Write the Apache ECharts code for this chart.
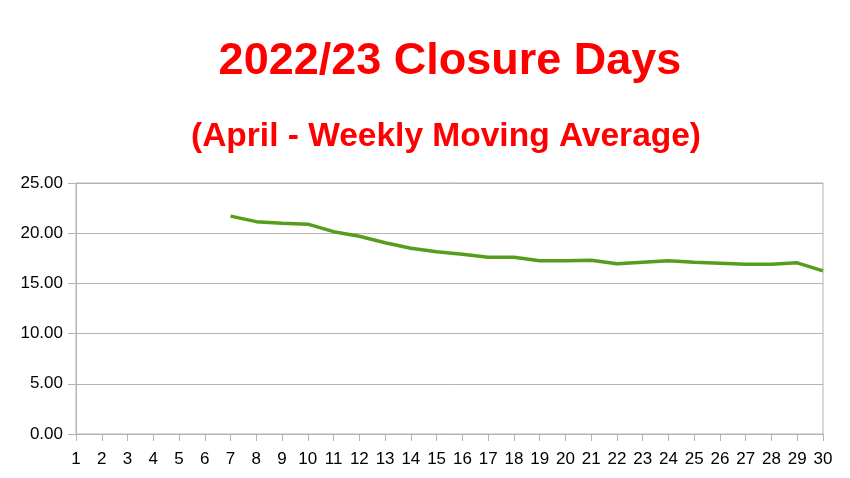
<!DOCTYPE html>
<html>
<head>
<meta charset="utf-8">
<script src="https://cdn.jsdelivr.net/npm/echarts@6/dist/echarts.min.js"></script>
<style>html,body{margin:0;padding:0;background:#fff}#c{width:850px;height:478px}</style>
</head>
<body>
<div id="c"></div>
<script>
const days = ['1','2','3','4','5','6','7','8','9','10','11','12','13','14','15','16','17','18','19','20','21','22','23','24','25','26','27','28','29','30'];
const movingAverage = [null,null,null,null,null,null,21.7,21.15,21.0,20.9,20.15,19.7,19.05,18.5,18.15,17.9,17.6,17.6,17.25,17.25,17.3,16.95,17.1,17.25,17.1,17.0,16.9,16.9,17.05,16.25];
const yTicks = {min:0, max:25, interval:5};

const chart = echarts.init(document.getElementById('c'));
const font = '"Liberation Sans", Arial, sans-serif';
chart.setOption({
  animation:false,
  title:[
    {text:'2022/23 Closure Days', left:445, top:34, textAlign:'center',
     textStyle:{color:'#ff0000', fontSize:45, fontWeight:'bold', fontFamily:font, lineHeight:45}},
    {text:'(April - Weekly Moving Average)', left:441, top:115, textAlign:'center',
     textStyle:{color:'#ff0000', fontSize:33.5, fontWeight:'bold', fontFamily:font, lineHeight:33}}
  ],
  grid:{left:76, right:27, top:183, bottom:44, show:true, borderColor:'#b3b3b3', borderWidth:1, containLabel:false},
  xAxis:{type:'category', data:days, boundaryGap:false,
    axisLine:{lineStyle:{color:'#b3b3b3', width:1}},
    axisTick:{show:true, length:7, alignWithLabel:true, lineStyle:{color:'#b3b3b3'}},
    axisLabel:{color:'#000', fontSize:17, fontFamily:font, margin:17, interval:0},
    splitLine:{show:false}},
  yAxis:{type:'value', min:yTicks.min, max:yTicks.max, interval:yTicks.interval,
    axisLine:{show:true, lineStyle:{color:'#b3b3b3', width:1}},
    axisTick:{show:true, length:8, lineStyle:{color:'#b3b3b3'}},
    axisLabel:{color:'#000', fontSize:17, fontFamily:font, margin:13, formatter:v=>v.toFixed(2)},
    splitLine:{show:true, lineStyle:{color:'#b3b3b3', width:1}}},
  series:[{type:'line', data:movingAverage, showSymbol:false, symbol:'none', connectNulls:false,
    lineStyle:{color:'#579d1c', width:3.5}, itemStyle:{color:'#579d1c'}}]
});
</script>
</body>
</html>
